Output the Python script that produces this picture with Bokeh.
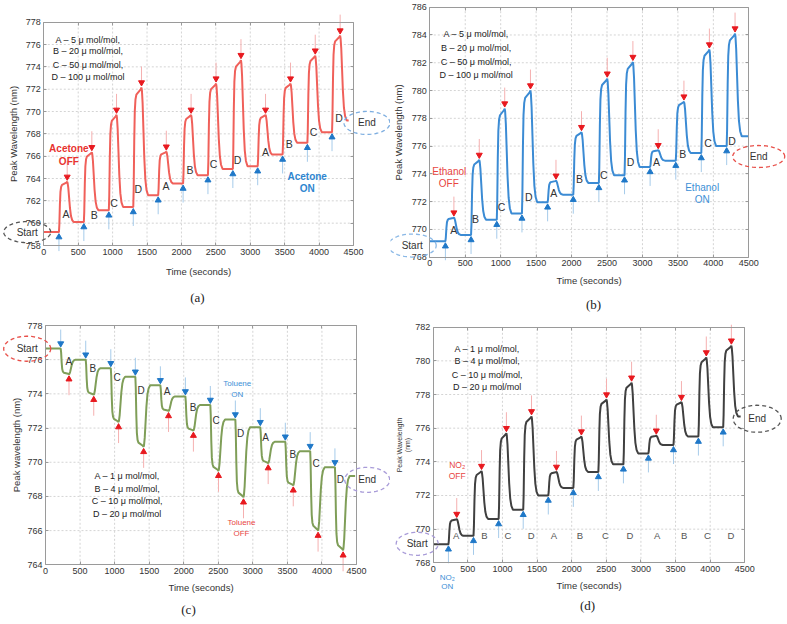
import numpy as np
from bokeh.plotting import figure
from bokeh.models import Label, PolyAnnotation, FixedTicker, ColumnDataSource, Range1d, LinearAxis
from bokeh.layouts import row, column
from bokeh.embed import file_html
from bokeh.resources import INLINE
from bokeh.core.properties import value

# ---------------- data ----------------
ON_T = [220, 582, 945, 1300, 1662, 2024, 2385, 2747, 3108, 3470, 3830, 4188]
OFF_T = [340, 698, 1057, 1420, 1780, 2140, 2503, 2865, 3222, 3585, 3944, 4306]
LETTERS = ["A", "B", "C", "D", "A", "B", "C", "D", "A", "B", "C", "D"]
X_TICKS = [0, 500, 1000, 1500, 2000, 2500, 3000, 3500, 4000, 4500]

# (a) acetone
A_BASE = [759.2, 760.1, 761.15, 761.45, 762.5, 763.55, 764.3, 764.85, 765.1, 766.15, 767.2, 768.15, 769.2]
A_PEAK = [763.7, 766.35, 769.7, 772.15, 766.4, 769.7, 772.5, 774.6, 769.7, 772.5, 775.0, 776.8]
A_END_T = 4430
A_YTICKS = [758, 760, 762, 764, 766, 768, 770, 772, 774, 776, 778]
A_LET_X = [322, 733, 1020, 1373, 1777, 2126, 2467, 2816, 3222, 3565, 3919, 4291]
A_LET_Y = [760.85, 760.75, 761.8, 763.04, 763.3, 764.74, 765.32, 765.64, 766.36, 767.1, 768.16, 769.41]
A_LEGEND = ["A – 5 μ mol/mol,", "B – 20 μ mol/mol,", "C – 50 μ mol/mol,", "D – 100 μ mol/mol"]

# (b) ethanol
B_BASE = [769.15, 769.6, 770.7, 771.15, 771.95, 772.5, 773.35, 773.9, 774.5, 774.95, 775.5, 776.0, 776.7]
B_PEAK = [770.85, 775.0, 778.7, 780.0, 773.5, 777.0, 780.85, 782.05, 775.7, 779.2, 782.95, 784.1]
B_END_T = 4490
B_YTICKS = [768, 770, 772, 774, 776, 778, 780, 782, 784, 786]
B_LET_X = [339, 645, 1011, 1397, 1750, 2111, 2455, 2831, 3198, 3569, 3926, 4265]
B_LET_Y = [769.97, 770.76, 771.6, 772.32, 772.6, 773.6, 773.95, 774.84, 774.84, 775.44, 776.2, 776.35]
B_LEGEND = ["A – 5 μ mol/mol,", "B – 20 μ mol/mol,", "C – 50 μ mol/mol,", "D – 100 μ mol/mol"]

# (c) toluene (response goes down)
C_BASE = [776.65, 776.0, 775.5, 775.0, 774.5, 773.85, 773.35, 772.5, 772.05, 771.2, 770.65, 769.7, 769.2]
C_PEAK = [775.15, 773.95, 772.35, 770.9, 773.0, 771.85, 769.5, 767.95, 769.95, 768.65, 766.0, 764.85]
C_END_T = 4480
C_YTICKS = [764, 766, 768, 770, 772, 774, 776, 778]
C_LET_X = [337, 685, 1037, 1384, 1761, 2137, 2470, 2822, 3183, 3579, 3917, 4268]
C_LET_Y = [775.91, 775.47, 774.98, 774.2, 774.16, 773.18, 772.44, 771.66, 771.47, 770.45, 769.95, 768.97]
C_LEGEND = ["A – 1 μ mol/mol,", "B – 4 μ mol/mol,", "C – 10 μ mol/mol,", "D – 20 μ mol/mol"]

# (d) NO2
D_BASE = [769.1, 769.6, 770.6, 771.15, 772.0, 772.45, 773.4, 773.85, 774.5, 775.0, 775.5, 776.05, 776.7]
D_PEAK = [770.6, 773.45, 775.7, 776.7, 773.4, 775.5, 777.7, 778.7, 775.55, 777.55, 780.2, 780.9]
D_END_T = 4440
D_YTICKS = [768, 770, 772, 774, 776, 778, 780, 782]
D_LET_X = [332, 741, 1078, 1416, 1742, 2118, 2489, 2840, 3235, 3625, 3962, 4298]
D_LET_Y = [769.62] * 12
D_LEGEND = ["A – 1 μ mol/mol,", "B – 4 μ mol/mol,", "C – 10 μ mol/mol,", "D – 20 μ mol/mol"]

# ---------------- styling / shape of the transitions ----------------
RISE = [(0, 0.0), (6, 0.15), (14, 0.55), (22, 0.8), (32, 0.9), (45, 0.94)]
FALL = [(6, 0.97), (16, 0.85), (28, 0.6), (40, 0.35), (55, 0.15), (72, 0.05), (95, 0.0)]

FONT = "Liberation Sans"
RED = "#e8191f"
RED_FAINT = "#f5b0b0"
BLUE = "#1f78c8"
BLUE_FAINT = "#a6cbea"
BOX = "#9a9a9a"


def trace(base, peak, end_t):
    xs, ys = [0], [base[0]]
    for i in range(len(ON_T)):
        b, p, n = base[i], peak[i], base[i + 1]
        t0, t1 = ON_T[i], OFF_T[i]
        for dt, f in RISE:
            xs.append(t0 + dt); ys.append(b + f * (p - b))
        xs.append(t1 - 12); ys.append(b + 0.985 * (p - b))
        xs.append(t1); ys.append(p)
        for dt, f in FALL:
            xs.append(t1 + dt); ys.append(n + f * (p - n))
    xs.append(end_t); ys.append(base[-1])
    return xs, ys


def style_axis(ax, ticks, bounds, loc, labels=True):
    ax.ticker = FixedTicker(ticks=ticks)
    ax.bounds = bounds
    ax.fixed_location = loc
    ax.axis_line_color = BOX
    ax.major_tick_line_color = BOX
    ax.major_tick_in = 3
    ax.major_tick_out = 0
    ax.minor_tick_line_color = None
    ax.major_label_text_font = FONT
    ax.major_label_text_font_size = "9px"
    ax.major_label_text_color = "#333333" if labels else None
    ax.major_label_standoff = 3
    ax.axis_label_text_font = FONT
    ax.axis_label_text_font_style = "normal"
    ax.axis_label_text_color = "#333333"


def make_panel(W, H, box, yr, yticks, ylabel, ylabel_size, ylabel_standoff,
               xlabel_standoff, base, peak, end_t, line_color, line_width, inverted,
               let_x, let_y, let_size, let_color, legend, legend_x, legend_y):
    L, R, T, B = box
    pps = (R - L) / 4500.0
    ppn = (B - T) / float(yr[1] - yr[0])
    xr = Range1d(-L / pps, 4500 + (W - R) / pps)
    yrng = Range1d(yr[0] - (H - B) / ppn, yr[1] + T / ppn)
    p = figure(width=W, height=H, output_backend="svg", toolbar_location=None, title=None,
               x_range=xr, y_range=yrng,
               min_border_left=0, min_border_right=0, min_border_top=0, min_border_bottom=0)
    p._pps = pps
    p._ppn = ppn
    p.background_fill_color = "white"
    p.border_fill_color = "white"
    p.outline_line_color = None
    p.grid.visible = False

    style_axis(p.xaxis[0], X_TICKS, (0, 4500), yr[0])
    style_axis(p.yaxis[0], yticks, (yr[0], yr[1]), 0)
    p.xaxis.axis_label = "Time (seconds)"
    p.yaxis.axis_label = ylabel
    p.xaxis.axis_label_text_font_size = "9.5px"
    p.yaxis.axis_label_text_font_size = ylabel_size
    p.xaxis.axis_label_standoff = xlabel_standoff
    p.yaxis.axis_label_standoff = ylabel_standoff
    top = LinearAxis()
    style_axis(top, X_TICKS, (0, 4500), yr[1], labels=False)
    p.add_layout(top, "above")
    right = LinearAxis()
    style_axis(right, yticks, (yr[0], yr[1]), 4500, labels=False)
    p.add_layout(right, "right")

    # dotted grid inside the box, at the tick values
    gx = X_TICKS[1:-1]
    gy = yticks[1:-1]
    p.segment(gx, [yr[0]] * len(gx), gx, [yr[1]] * len(gx), line_color="#d4d4d4",
              line_width=1, line_dash="2 2")
    p.segment([0] * len(gy), gy, [4500] * len(gy), gy, line_color="#d4d4d4",
              line_width=1, line_dash="2 2")

    xs, ys = trace(base, peak, end_t)
    p.line(xs, ys, line_color=line_color, line_width=line_width)

    # ON / OFF markers
    d5 = 5.0 / ppn
    l_red = 16.0 / ppn
    l_blue = 14.0 / ppn
    if not inverted:
        red_y = [v + d5 for v in peak]
        blue_y = [v - d5 for v in base[:-1]]
        p.segment(OFF_T, red_y, OFF_T, [v + l_red for v in red_y], line_color=RED_FAINT, line_width=1)
        p.segment(ON_T, blue_y, ON_T, [v - l_blue for v in blue_y], line_color=BLUE_FAINT, line_width=1)
        p.scatter(OFF_T, red_y, marker="inverted_triangle", size=6, fill_color=RED, line_color=RED)
        p.scatter(ON_T, blue_y, marker="triangle", size=6, fill_color=BLUE, line_color=BLUE)
    else:
        blue_y = [v + d5 for v in base[:-1]]
        red_y = [v - d5 for v in peak]
        p.segment(ON_T, blue_y, ON_T, [v + l_blue for v in blue_y], line_color=BLUE_FAINT, line_width=1)
        p.segment(OFF_T, red_y, OFF_T, [v - l_red for v in red_y], line_color=RED_FAINT, line_width=1)
        p.scatter(ON_T, blue_y, marker="inverted_triangle", size=6, fill_color=BLUE, line_color=BLUE)
        p.scatter(OFF_T, red_y, marker="triangle", size=6, fill_color=RED, line_color=RED)

    src = ColumnDataSource(dict(x=let_x, y=let_y, t=LETTERS))
    p.text(x="x", y="y", text="t", source=src, text_font=value(FONT), text_font_size=let_size,
           text_color=let_color, text_align="center", text_baseline="middle")

    for txt, yy in zip(legend, legend_y):
        p.add_layout(Label(x=legend_x, y=yy, text=txt, text_font=FONT, text_font_size="9px",
                           text_color="#222222", text_align="center", text_baseline="middle"))
    return p


def add_text(p, x, y, txt, color, size, bold=False):
    p.add_layout(Label(x=x, y=y, text=txt, text_font=FONT, text_font_size=size, text_color=color,
                       text_align="center", text_baseline="middle",
                       text_font_style="bold" if bold else "normal"))


def add_ellipse(p, cx, cy, wpx, hpx, color, txt):
    th = np.linspace(0, 2 * np.pi, 60)
    xs = cx + (wpx / 2.0) / p._pps * np.cos(th)
    ys = cy + (hpx / 2.0) / p._ppn * np.sin(th)
    p.add_layout(PolyAnnotation(xs=list(xs), ys=list(ys), fill_color=None, fill_alpha=0,
                                line_color=color, line_alpha=1.0, line_width=1.3, line_dash="4 3"))
    add_text(p, cx, cy, txt, "#333333", "10px")


def add_caption(p, x, px_below, txt, yr):
    p.add_layout(Label(x=x, y=yr[0] - px_below / p._ppn, text=txt, text_font="Liberation Serif",
                       text_font_size="13px", text_color="#222222", text_align="center",
                       text_baseline="middle"))


# ---------------- panels ----------------
pa = make_panel(390, 312, (43.3, 353, 21.7, 245), (758, 778), A_YTICKS, "Peak Wavelength (nm)", "9.5px", 3, 8,
                A_BASE, A_PEAK, A_END_T, "#f0605a", 2, False,
                A_LET_X, A_LET_Y, "10.5px", "#333333", A_LEGEND, 642, [776.45, 775.4, 774.18, 773.07])
add_text(pa, 364, 766.66, "Acetone", "#e8332f", "10px", True)
add_text(pa, 364, 765.55, "OFF", "#e8332f", "10px", True)
add_text(pa, 3827, 764.18, "Acetone", "#2f86d0", "10px", True)
add_text(pa, 3827, 763.07, "ON", "#2f86d0", "10px", True)
add_ellipse(pa, -241, 759.2, 47, 21, "#555555", "Start")
add_ellipse(pa, 4696, 768.98, 46, 23, "#7eaee0", "End")
add_caption(pa, 2233, 52, "(a)", (758, 778))

pb = make_panel(396, 312, (39.3, 358.3, 6.7, 256.7), (768, 786), B_YTICKS, "Peak Wavelength (nm)", "9.5px", 4, 5,
                B_BASE, B_PEAK, B_END_T, "#3b8bd4", 2, False,
                B_LET_X, B_LET_Y, "10.5px", "#333333", B_LEGEND, 654, [784.08, 783.07, 782.04, 781.15])
add_text(pb, 275, 774.19, "Ethanol", "#e8453f", "10px")
add_text(pb, 268, 773.33, "OFF", "#e8453f", "10px")
add_text(pb, 3842, 773.04, "Ethanol", "#3d8fd6", "10px")
add_text(pb, 3842, 772.13, "ON", "#3d8fd6", "10px")
add_ellipse(pb, -248, 768.84, 48, 23, "#8ab8e6", "Start")
add_ellipse(pb, 4640, 775.25, 52, 22, "#e8504a", "End")
add_caption(pb, 2309, 47, "(b)", (768, 786))

pc = make_panel(390, 311, (45, 356, 13, 252.3), (764, 778), C_YTICKS, "Peak wavelength (nm)", "9.5px", 2, 5,
                C_BASE, C_PEAK, C_END_T, "#7f9e58", 2, True,
                C_LET_X, C_LET_Y, "10px", "#333333", C_LEGEND, 1182, [769.17, 768.45, 767.71, 766.98])
add_text(pc, 2774, 774.59, "Toluene", "#3d8fd6", "8px")
add_text(pc, 2774, 773.96, "ON", "#3d8fd6", "8px")
add_text(pc, 2836, 766.46, "Toluene", "#e8453f", "8px")
add_text(pc, 2836, 765.81, "OFF", "#e8453f", "8px")
add_ellipse(pc, -265, 776.64, 47, 25, "#e8504a", "Start")
add_ellipse(pc, 4655, 768.97, 45, 25, "#a89bd8", "End")
add_caption(pc, 2069, 45, "(c)", (764, 778))

pd = make_panel(396, 311, (42.7, 354.3, 14.7, 250.3), (768, 782), D_YTICKS, "Peak Wavelength\n(nm)", "7px", 1, 5,
                D_BASE, D_PEAK, D_END_T, "#404040", 2, False,
                D_LET_X, D_LET_Y, "9.5px", "#555555", D_LEGEND, 780, [780.71, 780.02, 779.17, 778.44])
add_text(pd, 347, 773.84, "NO₂", "#e8453f", "8.5px")
add_text(pd, 347, 773.15, "OFF", "#e8453f", "8.5px")
add_text(pd, 202, 767.14, "NO₂", "#3d8fd6", "8px")
add_text(pd, 202, 766.61, "ON", "#3d8fd6", "8px")
add_ellipse(pd, -231, 769.13, 42, 23, "#a89bd8", "Start")
add_ellipse(pd, 4679, 776.56, 48, 27, "#555555", "End")
add_caption(pd, 2230, 43, "(d)", (768, 782))

layout = column(row(pa, pb), row(pc, pd))
open("out.html", "w").write(file_html(layout, INLINE))
